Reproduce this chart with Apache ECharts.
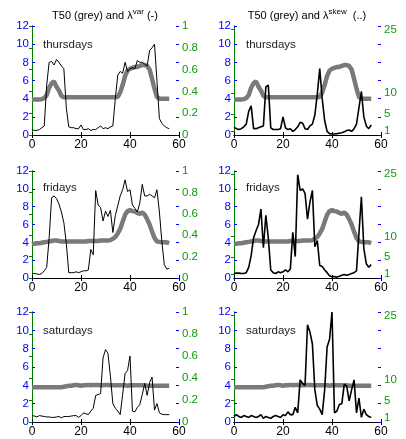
<!DOCTYPE html>
<html>
<head>
<meta charset="utf-8">
<title>T50 and lambda</title>
<script src="https://cdn.jsdelivr.net/npm/echarts@6.0.0/dist/echarts.min.js"></script>
<style>
  html, body { margin: 0; padding: 0; background: #fff; }
  #main { width: 406px; height: 439px; }
</style>
</head>
<body>
<div id="main"></div>
<script>
// time index (x)
var xs = [0,1,2,3,4,5,6,7,8,9,10,11,12,13,14,15,16,17,18,19,20,21,22,23,24,25,26,27,28,
          29,30,31,32,33,34,35,36,37,38,39,40,41,42,43,44,45,46,47,48,49,50,51,52,53,54,55,56];

// T50 (grey), left axis
var thuT50 = [3.9,3.9,3.9,3.9,3.95,4.05,4.4,5.2,5.7,5.9,
              5.3,4.9,4.3,4.15,4.15,4.15,4.15,4.15,4.15,4.15,
              4.15,4.15,4.15,4.15,4.15,4.15,4.15,4.15,4.15,4.15,
              4.15,4.15,4.15,4.15,4.15,4.2,4.7,5.5,6.5,7.1,
              7.3,7.4,7.5,7.5,7.6,7.7,7.7,7.6,7.2,6.2,
              5.1,4.2,4.0,4.0,4.0,4.0,4.0];
var friT50 = [3.8,3.85,3.9,3.9,3.95,4.0,4.05,4.1,4.15,4.2,
              4.2,4.15,4.1,4.1,4.1,4.1,4.1,4.1,4.1,4.1,
              4.1,4.1,4.1,4.15,4.15,4.15,4.15,4.15,4.2,4.2,
              4.2,4.2,4.25,4.4,4.6,5.0,5.5,6.3,7.1,7.5,
              7.6,7.5,7.45,7.3,7.2,7.35,7.1,6.6,6.0,5.2,
              4.5,4.1,4.05,4.0,4.0,4.0,3.9];
var satT50 = [3.8,3.8,3.8,3.8,3.8,3.8,3.8,3.8,3.8,3.8,
              3.8,3.8,3.8,3.85,3.9,3.95,3.95,4.0,4.05,4.0,
              3.95,4.0,4.0,4.05,4.0,4.05,4.05,4.05,4.0,4.0,
              4.05,4.05,4.0,4.0,4.0,4.0,4.0,4.0,4.0,3.95,
              4.0,4.0,4.0,4.0,4.0,4.0,4.0,3.95,3.95,3.95,
              3.95,3.95,3.95,3.95,3.95,3.95,3.95];

// lambda var (black, left column), right axis 0..1
var thuVar = [0.05,0.042,0.042,0.05,0.067,0.083,0.458,0.667,0.675,0.642,
              0.692,0.667,0.633,0.608,0.25,0.075,0.067,0.067,0.058,0.058,
              0.092,0.05,0.05,0.058,0.042,0.05,0.05,0.067,0.083,0.058,
              0.067,0.058,0.075,0.083,0.333,0.55,0.583,0.567,0.667,0.583,
              0.608,0.617,0.608,0.683,0.667,0.667,0.65,0.633,0.775,0.8,
              0.833,0.5,0.15,0.108,0.083,0.067,0.058];
var friVar = [0.042,0.042,0.038,0.033,0.042,0.067,0.1,0.375,0.75,0.767,
              0.742,0.692,0.617,0.517,0.325,0.05,0.05,0.05,0.058,0.05,
              0.058,0.067,0.067,0.075,0.267,0.217,0.817,0.683,0.658,0.533,
              0.625,0.575,0.633,0.425,0.583,0.675,0.767,0.825,0.917,0.808,
              0.825,0.683,0.65,0.617,0.7,0.875,0.767,0.767,0.783,0.767,
              0.75,0.825,0.617,0.342,0.125,0.083,0.092];
var satVar = [0.058,0.054,0.046,0.058,0.054,0.05,0.046,0.046,0.042,0.042,
              0.046,0.05,0.038,0.05,0.05,0.05,0.054,0.058,0.058,0.042,
              0.058,0.083,0.075,0.067,0.1,0.125,0.242,0.25,0.258,0.583,
              0.658,0.625,0.417,0.167,0.125,0.1,0.067,0.25,0.442,0.467,
              0.6,0.1,0.092,0.133,0.158,0.25,0.35,0.242,0.358,0.408,
              0.108,0.167,0.083,0.071,0.067,0.067,0.067];

// lambda skew (black, right column), right axis
var thuSkew = [1.83,1.5,1.29,1.5,1.94,2.58,5.59,6.88,1.5,1.5,
               1.72,1.94,2.15,11.4,11.8,1.72,1.29,1.29,1.29,1.5,
               4.3,1.72,1.29,1.5,0.86,1.29,1.94,3.01,2.8,1.5,
               1.29,2.15,2.58,4.73,9.68,15.7,8.6,3.44,0.86,0.32,
               0.22,0.22,0.32,0.43,0.54,0.75,1.08,1.18,0.86,1.5,
               2.58,6.45,10.3,4.3,2.15,1.5,2.37];
var friSkew = [1.08,1.18,1.18,1.08,1.08,1.29,2.58,5.38,9.68,11.4,
               12.9,16.6,7.31,15.1,9.68,1.94,1.29,1.08,1.5,1.29,
               1.5,1.94,1.5,2.15,11.0,5.16,24.9,21.1,21.5,20.4,
               14.2,18.3,21.1,7.53,9.03,3.01,2.8,1.94,1.29,0.54,
               0.32,0.32,0.22,0.43,0.65,0.86,0.65,0.86,1.08,1.29,
               1.72,10.8,19.6,7.1,3.44,2.58,3.23];
var satSkew = [1.29,1.72,1.29,1.08,1.5,1.29,1.08,1.5,1.29,1.08,
               1.29,1.72,0.86,1.29,1.08,0.86,1.29,1.5,1.29,1.08,
               1.72,1.5,2.37,1.72,1.72,3.44,2.15,9.89,9.03,8.6,
               22.8,21.1,18.3,7.53,3.87,3.01,1.72,7.53,17.6,19.4,
               25.8,2.15,2.58,4.09,4.3,8.82,8.39,4.95,7.53,9.89,
               2.15,5.59,1.08,3.01,1.72,1.29,1.08];

var skewTicks = [1, 5, 10, 25];
var days = ['thursdays', 'fridays', 'saturdays'];

var FONT = 'Liberation Sans, Arial, sans-serif';
var BLUE = '#0000ff', GREEN = '#008000', GREENTXT = '#109a10';

var panels = [
  {day: 0, col: 0, t50: thuT50, lam: thuVar},
  {day: 0, col: 1, t50: thuT50, lam: thuSkew},
  {day: 1, col: 0, t50: friT50, lam: friVar},
  {day: 1, col: 1, t50: friT50, lam: friSkew},
  {day: 2, col: 0, t50: satT50, lam: satVar},
  {day: 2, col: 1, t50: satT50, lam: satSkew}
];
var rowTop = [26, 171, 312], rowH = [109, 107, 110];
var colLeft = [32, 234], colW = 147;

function pairs(ys) {
  var out = [];
  for (var i = 0; i < ys.length; i++) out.push([xs[i], ys[i]]);
  return out;
}

var grid = [], xAxis = [], yAxis = [], series = [], graphic = [];

panels.forEach(function (p, k) {
  grid.push({left: colLeft[p.col], top: rowTop[p.day], width: colW, height: rowH[p.day]});
  // bottom + top x axes (box)
  xAxis.push({
    gridIndex: k, type: 'value', min: 0, max: 60, interval: 20, position: 'bottom',
    axisLine: {lineStyle: {color: '#000', width: 1}},
    axisTick: {inside: true, length: 3, lineStyle: {color: '#000'}},
    axisLabel: {color: '#000', fontSize: 12, fontFamily: FONT, margin: 4},
    splitLine: {show: false}
  });
  xAxis.push({
    gridIndex: k, type: 'value', min: 0, max: 60, interval: 20, position: 'top',
    axisLine: {lineStyle: {color: '#000', width: 1}},
    axisTick: {inside: true, length: 3, lineStyle: {color: '#000'}},
    axisLabel: {show: false}, splitLine: {show: false}
  });
  // left axis T50
  yAxis.push({
    gridIndex: k, type: 'value', min: 0, max: 12, interval: 2, position: 'left',
    axisLine: {show: true, lineStyle: {color: BLUE, width: 1}},
    axisTick: {show: true, inside: true, length: 3, lineStyle: {color: BLUE}},
    axisLabel: {color: BLUE, fontSize: 11.5, fontFamily: FONT, margin: 3},
    splitLine: {show: false}
  });
  // right axis lambda
  var r = {
    gridIndex: k, type: 'value', position: 'right',
    axisLine: {show: true, lineStyle: {color: GREEN, width: 1}},
    axisTick: {show: true, inside: true, length: 3, lineStyle: {color: GREEN}},
    axisLabel: {color: GREENTXT, fontSize: 11.5, fontFamily: FONT, margin: 3},
    splitLine: {show: false}
  };
  if (p.col === 0) {
    r.min = 0; r.max = 1; r.interval = 0.2;
  } else {
    r.min = 0; r.max = 25.8;
    r.axisLabel.customValues = skewTicks;
    r.axisTick.customValues = skewTicks;
  }
  yAxis.push(r);
  // mirrored left ticks on the right side
  yAxis.push({
    gridIndex: k, type: 'value', min: 0, max: 12, interval: 2, position: 'right',
    axisLine: {show: false},
    axisTick: {show: true, inside: true, length: 3, lineStyle: {color: BLUE}},
    axisLabel: {show: false}, splitLine: {show: false}
  });

  series.push({
    type: 'line', xAxisIndex: 2 * k, yAxisIndex: 3 * k, data: pairs(p.t50),
    symbol: 'none', lineStyle: {color: '#7a7a7a', width: 4.5}, silent: true, z: 2
  });
  series.push({
    type: 'line', xAxisIndex: 2 * k, yAxisIndex: 3 * k + 1, data: pairs(p.lam),
    symbol: 'none', lineStyle: {color: '#000', width: p.col === 0 ? 1 : 1.6}, silent: true, z: 3
  });

  graphic.push({
    type: 'text', left: colLeft[p.col] + (p.col === 0 ? 11 : 12), top: rowTop[p.day] + (p.day === 1 ? 11 : 13),
    style: {text: days[p.day], fill: '#222', font: '11.5px ' + FONT}
  });
});

var titleRich = {
  a: {fontSize: 11, fontFamily: FONT, color: '#000'},
  s: {fontSize: 8, fontFamily: FONT, color: '#000', padding: [0, 0, 7, 0]}
};
graphic.push({
  type: 'text', x: 105, y: 8,
  style: {text: '{a|T50 (grey) and λ}{s|var}{a| (-)}', rich: titleRich, align: 'center', fill: '#000'}
});
graphic.push({
  type: 'text', x: 307, y: 8,
  style: {text: '{a|T50 (grey) and λ}{s|skew}{a|  (..)}', rich: titleRich, align: 'center', fill: '#000'}
});

var chart = echarts.init(document.getElementById('main'), null, {renderer: 'canvas'});
chart.setOption({
  animation: false,
  backgroundColor: '#fff',
  grid: grid, xAxis: xAxis, yAxis: yAxis, series: series, graphic: graphic
});
</script>
</body>
</html>
